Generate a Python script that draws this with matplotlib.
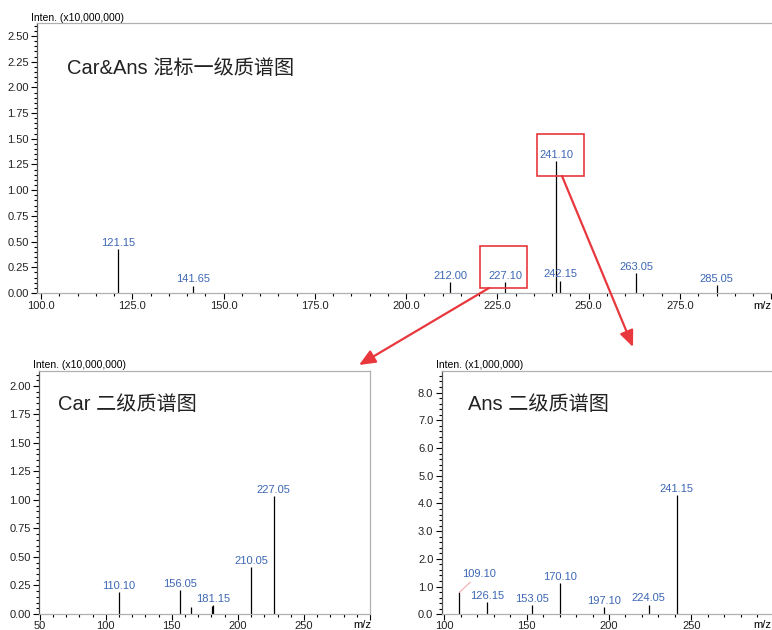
import matplotlib
matplotlib.use('Agg')
import matplotlib.pyplot as plt
import matplotlib.ticker as mtick
from matplotlib.patches import Rectangle, FancyArrowPatch

# 一级质谱 (x10,000,000)
ms1_mz = [121.15, 141.65, 212.00, 227.10, 241.10, 242.15, 263.05, 285.05]
ms1_int = [0.428, 0.071, 0.107, 0.107, 1.28, 0.12, 0.19, 0.075]

# Car 二级质谱 (x10,000,000)
car_mz = [110.10, 156.05, 164.60, 180.45, 181.15, 210.05, 227.05]
car_int = [0.19, 0.21, 0.06, 0.07, 0.079, 0.41, 1.035]
car_labels = ['110.10', '156.05', None, None, '181.15', '210.05', '227.05']

# Ans 二级质谱 (x1,000,000)
ans_mz = [109.10, 126.15, 153.05, 170.10, 197.10, 224.05, 241.15]
ans_int = [0.79, 0.43, 0.32, 1.12, 0.25, 0.34, 4.30]

W, H = 772, 630
NUM_FONT = ['Liberation Sans Narrow', 'Liberation Sans']
TXT_FONT = ['Liberation Sans', 'Noto Sans CJK SC']
BLUE = '#3d67b4'
RED = '#e8383d'


def px_axes(fig, x0, y0, x1, y1):
    # pixel box (top-left origin) -> axes
    return fig.add_axes([x0 / W, 1 - y1 / H, (x1 - x0) / W, (y1 - y0) / H])


def fx(x):
    return x / W


def fy(y):
    return 1 - y / H


def style_axis(ax, xlim, ylim, xmaj, xmin, ymaj, ymin, xfmt, yfmt, show_right, xpad=2):
    ax.set_xlim(*xlim)
    ax.set_ylim(*ylim)
    ax.xaxis.set_major_locator(mtick.MultipleLocator(xmaj))
    ax.xaxis.set_minor_locator(mtick.MultipleLocator(xmin))
    ax.yaxis.set_major_locator(mtick.MultipleLocator(ymaj))
    ax.yaxis.set_minor_locator(mtick.MultipleLocator(ymin))
    # 最后一个刻度位置留给 m/z
    ax.xaxis.set_major_formatter(
        mtick.FuncFormatter(lambda v, p: '' if v > 290 else xfmt % v))
    ax.yaxis.set_major_formatter(mtick.FormatStrFormatter(yfmt))
    ax.tick_params(which='major', direction='out', length=4, width=0.8, pad=2,
                   labelsize=8, colors='black')
    ax.tick_params(axis='x', which='major', pad=xpad)
    ax.tick_params(which='minor', direction='out', length=2, width=0.8)
    for lab in ax.get_xticklabels() + ax.get_yticklabels():
        lab.set_family(NUM_FONT)
        lab.set_color('#222222')
    for s in ['top', 'bottom', 'right']:
        ax.spines[s].set_color('#b0b0b0')
        ax.spines[s].set_linewidth(0.9)
    ax.spines['left'].set_color('#555555')
    ax.spines['left'].set_linewidth(0.9)
    ax.spines['right'].set_visible(show_right)
    ax.patch.set_alpha(0)


def draw_peaks(ax, mz, inten, labels):
    ax.vlines(mz, 0, inten, colors='black', linewidth=0.9)
    for m, v, lab in zip(mz, inten, labels):
        if lab is None:
            continue
        ax.annotate(lab, (m, v), xytext=(0, 1), textcoords='offset points',
                    ha='center', va='bottom', fontsize=8, color=BLUE, family=NUM_FONT)


fig = plt.figure(figsize=(W / 100, H / 100), dpi=100)

# ---- top: 一级质谱
ax1 = px_axes(fig, 37, 23, 772, 293)
style_axis(ax1, (98.9, 300.2), (0, 2.626), 25, 5, 0.25, 0.05, '%.1f', '%.2f', False)
draw_peaks(ax1, ms1_mz, ms1_int, ['%.2f' % m for m in ms1_mz])
fig.text(fx(771), fy(306), 'm/z', fontsize=8, family=NUM_FONT, va='center', ha='right')
fig.text(fx(31), fy(18), 'Inten. (x10,000,000)', fontsize=7.5, family=NUM_FONT, va='center')
fig.text(fx(67), fy(68), 'Car&Ans 混标一级质谱图', fontsize=14.5, family=TXT_FONT,
         va='center', color='#222222')

# ---- bottom-left: Car
ax2 = px_axes(fig, 39, 371, 370, 614)
style_axis(ax2, (49.5, 300), (0, 2.131), 50, 10, 0.25, 0.05, '%d', '%.2f', True, xpad=1)
draw_peaks(ax2, car_mz, car_int, car_labels)
fig.text(fx(362), fy(625), 'm/z', fontsize=8, family=NUM_FONT, va='center', ha='center')
fig.text(fx(33), fy(365), 'Inten. (x10,000,000)', fontsize=7.5, family=NUM_FONT, va='center')
fig.text(fx(58), fy(404), 'Car 二级质谱图', fontsize=14.5, family=TXT_FONT,
         va='center', color='#222222')

# ---- bottom-right: Ans
ax3 = px_axes(fig, 441.7, 371, 772, 614.3)
style_axis(ax3, (98.4, 299.0), (0, 8.778), 50, 10, 1.0, 0.2, '%d', '%.1f', False, xpad=1)
ans_labels = ['%.2f' % m for m in ans_mz]
draw_peaks(ax3, ans_mz, ans_int, [None] + ans_labels[1:])
# 109.10 带引线
ax3.annotate(ans_labels[0], (ans_mz[0], ans_int[0]), xytext=(14, 9.4),
             textcoords='offset points', ha='center', va='bottom', fontsize=8,
             color=BLUE, family=NUM_FONT,
             arrowprops=dict(arrowstyle='-', color='#f4a0a0', lw=0.7,
                             shrinkA=0, shrinkB=0))
fig.text(fx(771), fy(625), 'm/z', fontsize=8, family=NUM_FONT, va='center', ha='right')
fig.text(fx(436), fy(365), 'Inten. (x1,000,000)', fontsize=7.5, family=NUM_FONT, va='center')
fig.text(fx(468), fy(404), 'Ans 二级质谱图', fontsize=14.5, family=TXT_FONT,
         va='center', color='#222222')

# ---- red boxes & arrows
for (x0, y0, x1, y1) in [(480, 246, 527, 288), (537, 134, 584, 176)]:
    fig.patches.append(Rectangle((fx(x0), fy(y1)), fx(x1 - x0), (y1 - y0) / H,
                                 transform=fig.transFigure, fill=False,
                                 edgecolor=RED, linewidth=1.2))
for (a, b) in [((489, 288), (359, 365)), ((562, 176), (633, 347))]:
    fig.patches.append(FancyArrowPatch((fx(a[0]), fy(a[1])), (fx(b[0]), fy(b[1])),
                                       transform=fig.transFigure,
                                       arrowstyle='-|>,head_length=0.7,head_width=0.3',
                                       mutation_scale=14, color=RED, linewidth=1.6,
                                       shrinkA=0, shrinkB=0))

fig.savefig('out.png', dpi=100)
